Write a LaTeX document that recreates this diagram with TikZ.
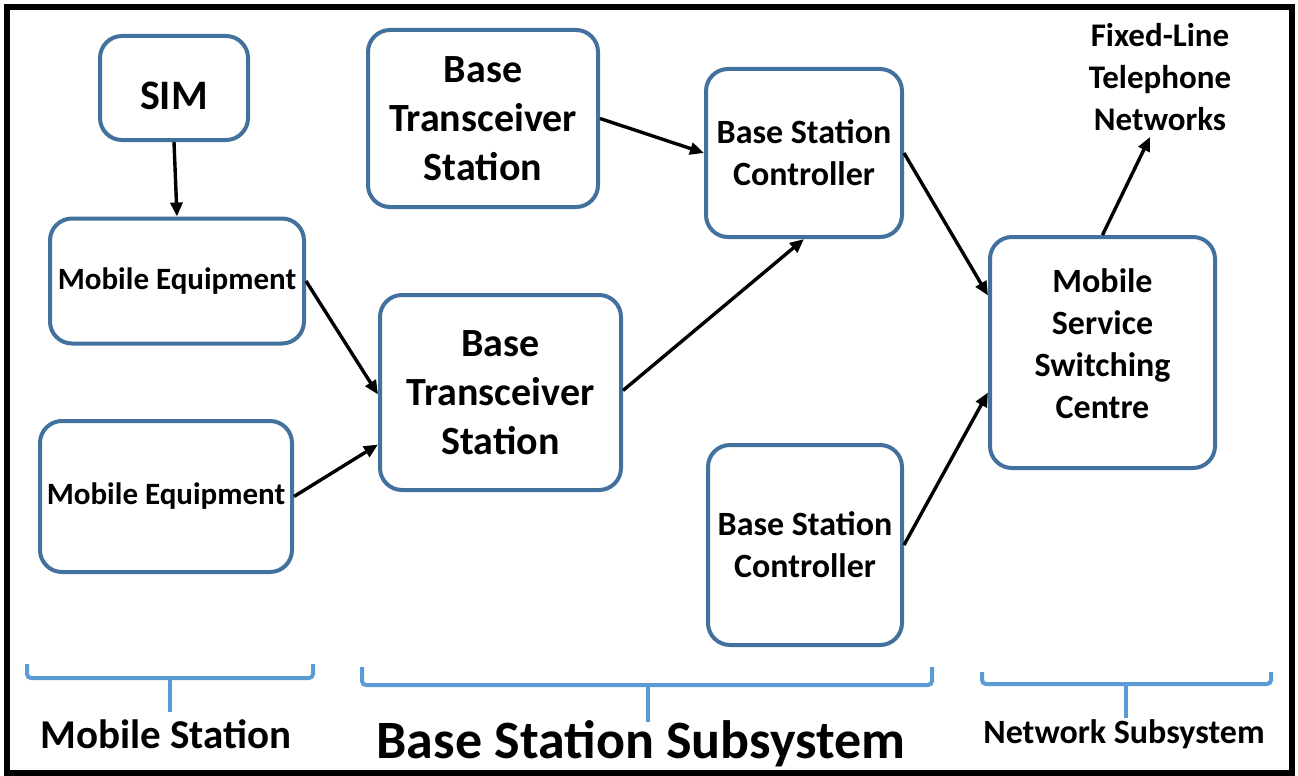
\documentclass[tikz,border=0pt]{standalone}
\usepackage{fontspec}
\setmainfont{Carlito}
\usetikzlibrary{arrows.meta,calc}
\definecolor{boxblue}{HTML}{41719C}
\definecolor{braceblue}{HTML}{5B9BD5}
\tikzset{
  unit/.style={draw=boxblue, line width=4pt, fill=white, rounded corners=22pt,
               align=center, inner sep=0pt, font=\bfseries},
  link/.style={line width=3.4pt, -{Triangle[length=14pt,width=12pt]}},
  brace/.style={draw=braceblue, line width=4pt, rounded corners=4pt},
  grouplabel/.style={anchor=base, inner sep=0pt, font=\bfseries}
}
\begin{document}
\begin{tikzpicture}[x=1pt,y=-1pt]
  % canvas and frame
  \fill[white] (0,0) rectangle (1298,776);
  \useasboundingbox (0,0) rectangle (1298,776);
  \draw[line width=6pt] (7,7) rectangle (1292,773);

  % mobile station
  \node[unit, minimum width=148pt, minimum height=104pt,
        label={[font=\bfseries\fontsize{42}{50}\selectfont, yshift=-8pt]center:SIM}]
    (sim) at (174,88) {};
  \node[unit, minimum width=254pt, minimum height=125pt, font=\bfseries\fontsize{31}{38}\selectfont]
    (me1) at (177,281) {Mobile Equipment};
  \node[unit, minimum width=252pt, minimum height=151pt, font=\bfseries\fontsize{31}{38}\selectfont]
    (me2) at (166,496.5) {Mobile Equipment};

  % base station subsystem
  \node[unit, minimum width=230pt, minimum height=177pt, font=\bfseries\fontsize{40}{49}\selectfont]
    (bts1) at (483,118.5) {Base\\Transceiver\\Station};
  \node[unit, minimum width=241pt, minimum height=195pt, font=\bfseries\fontsize{40}{49}\selectfont]
    (bts2) at (500.5,392.5) {Base\\Transceiver\\Station};
  \node[unit, minimum width=196pt, minimum height=168pt, font=\bfseries\fontsize{34}{42}\selectfont]
    (bsc1) at (804,153) {Base Station\\Controller};
  \node[unit, minimum width=194pt, minimum height=200pt, font=\bfseries\fontsize{34}{42}\selectfont]
    (bsc2) at (805,545) {Base Station\\Controller};

  % network subsystem
  \node[unit, minimum width=225pt, minimum height=231pt,
        label={[align=center, font=\bfseries\fontsize{34}{42}\selectfont, yshift=9pt]center:Mobile\\Service\\Switching\\Centre}]
    (msc) at (1102.5,352.5) {};
  \node[align=center, inner sep=0pt, font=\bfseries\fontsize{33}{42}\selectfont]
    (fixed) at (1160,77) {Fixed-Line\\Telephone\\Networks};
  \coordinate (fixedin) at (1150,137);

  % connections
  \draw[link] (sim.south) -- (me1.north);
  \draw[link] (me1.east) -- ([yshift=-2pt]bts2.west);
  \draw[link] (me2.east) -- ([yshift=-52pt]bts2.west);
  \draw[link] ([yshift=2pt]bts2.east) -- (bsc1.south);
  \draw[link] (bts1.east) -- (bsc1.west);
  \draw[link] (bsc1.east) -- ([yshift=57pt]msc.west);
  \draw[link] (bsc2.east) -- ([yshift=-40pt]msc.west);
  \draw[link] (msc.north) -- (fixedin);

  % group braces
  \draw[brace] (27,664) -- (27,678) -- (313,678) -- (313,664);
  \draw[brace] (170,678) -- (170,712);
  \draw[brace] (362,667) -- (362,685) -- (932,685) -- (932,667);
  \draw[brace] (648,685) -- (648,722);
  \draw[brace] (982,672) -- (982,684) -- (1271,684) -- (1271,672);
  \draw[brace] (1126,684) -- (1126,718);

  % group labels
  \node[grouplabel, font=\bfseries\fontsize{41}{48}\selectfont] (lms) at (166,748) {Mobile Station};
  \node[grouplabel, font=\bfseries\fontsize{54}{62}\selectfont] (lbss) at (641,758) {Base Station Subsystem};
  \node[grouplabel, font=\bfseries\fontsize{34}{40}\selectfont] (lnss) at (1124,743) {Network Subsystem};
\end{tikzpicture}
\end{document}
